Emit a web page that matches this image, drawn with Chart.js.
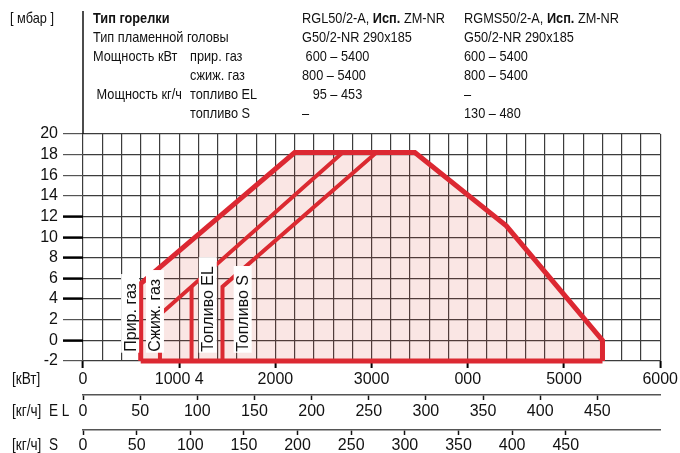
<!DOCTYPE html>
<html lang="ru">
<head>
<meta charset="UTF-8">
<title>RGL50/2-A, RGMS50/2-A – рабочее поле</title>
<script src="https://cdn.jsdelivr.net/npm/chart.js"></script>
<style>
  body { margin: 0; background: #fff; }
  .wrap { position: relative; width: 680px; height: 453px; }
</style>
</head>
<body>
<div class="wrap"><canvas id="burner" width="680" height="453"></canvas></div>
<script>
// рабочие поля горелки, точки [кВт, мбар] (топливо EL - [кг/ч, мбар])
const natGas = [[600, -2], [600, 5.5], [2200, 18.2], [3450, 18.2], [4400, 11.1], [5400, 0], [5400, -2]];
const baseLine = [[600, -2], [5400, -2]];
const lpg = [[800, -2], [800, 2.5], [2700, 18.2]];
const oilEL = [[95, -2], [95, 5.2]];
const oilS = [[1450, -2], [1450, 5.2], [3050, 18.2]];

// подписи осей
const mbarTicks = [-2, 0, 2, 4, 6, 8, 10, 12, 14, 16, 18, 20];
const kwLabels = ['0', '1000 4', '2000', '3000', '000', '5000', '6000'];
const elTicks = [0, 50, 100, 150, 200, 250, 300, 350, 400, 450];
const sTicks = [0, 50, 100, 150, 200, 250, 300, 350, 400, 450];
const boldTicks = [0, 4, 6, 8, 10, 12];

// таблица над графиком
const tableRows = [
  [[['Тип горелки', 1]], null, [['RGL50/2-A, ', 0], ['Исп.', 1], [' ZM-NR', 0]], [['RGMS50/2-A, ', 0], ['Исп.', 1], [' ZM-NR', 0]]],
  ['Тип пламенной головы', null, 'G50/2-NR 290x185', 'G50/2-NR 290x185'],
  ['Мощность кВт', 'прир. газ', ' 600 – 5400', '600 – 5400'],
  [null, 'сжиж. газ', '800 – 5400', '800 – 5400'],
  [' Мощность кг/ч', 'топливо EL', '   95 – 453', '–'],
  [null, 'топливо S', '–', '130 – 480']
];
const sideNotes = [['Прир. газ', 490], ['Сжиж. газ', 748], ['Топливо EL', 1297], ['Топливо S', 1660]];

const RED = '#dc2832';
const FONT = '"Liberation Sans", Arial, sans-serif';
const NARROW = 0.85; // типографский шрифт уже обычного

function pts(a) { return a.map(p => ({ x: p[0], y: p[1] })); }

// текст с горизонтальным сжатием
function narrowText(ctx, text, x, y) {
  ctx.save();
  ctx.translate(x, y);
  ctx.scale(NARROW, 1);
  ctx.fillText(text, 0, 0);
  ctx.restore();
  return ctx.measureText(text).width * NARROW;
}

const paper = {
  id: 'paper',
  afterDatasetsDraw(chart) {
    const { ctx, scales: { x, y } } = chart;
    ctx.save();
    ctx.font = '16px ' + FONT;
    sideNotes.forEach(n => {
      const cx = x.getPixelForValue(n[1]);
      const by = y.getPixelForValue(-1.1);
      const w = ctx.measureText(n[0]).width;
      ctx.fillStyle = '#fff';
      ctx.fillRect(cx - 9, by - w - 9, 18, w + 10);
      ctx.save();
      ctx.translate(cx, by);
      ctx.rotate(-Math.PI / 2);
      ctx.fillStyle = '#111';
      ctx.textBaseline = 'middle';
      ctx.fillText(n[0], 0, 1);
      ctx.restore();
    });
    ctx.restore();
  },
  afterDraw(chart) {
    const { ctx, chartArea, scales } = chart;
    ctx.save();
    ctx.fillStyle = '#111';
    ctx.textBaseline = 'middle';

    // разделитель
    const x0 = scales.x.getPixelForValue(0);
    ctx.strokeStyle = '#111';
    ctx.lineWidth = 1.5;
    ctx.beginPath();
    ctx.moveTo(x0, 11);
    ctx.lineTo(x0, chartArea.top);
    ctx.stroke();

    ctx.font = '15px ' + FONT;
    narrowText(ctx, '[ мбар ]', 10, 19);

    const cols = [93, 190, 302, 464];
    tableRows.forEach((row, r) => {
      const ty = 19 + r * 19;
      row.forEach((cell, c) => {
        if (!cell) return;
        const parts = typeof cell === 'string' ? [[cell, 0]] : cell;
        let tx = cols[c];
        parts.forEach(p => {
          ctx.font = (p[1] ? 'bold ' : '') + '15px ' + FONT;
          tx += narrowText(ctx, p[0], tx, ty);
        });
      });
    });

    // единицы нижних осей
    ctx.font = '16px ' + FONT;
    const units = [['x', '[кВт]'], ['xEL', '[кг/ч]  E L'], ['xS', '[кг/ч]  S']];
    units.forEach(u => {
      const s = scales[u[0]];
      narrowText(ctx, u[1], 12, s.top + s.options.grid.tickLength + s.options.ticks.padding + 9.5);
    });
    ctx.restore();
  }
};

const tickFont = { family: FONT, size: 16 };

new Chart(document.getElementById('burner'), {
  type: 'line',
  data: {
    datasets: [
      { data: pts(natGas), borderColor: RED, borderWidth: 5, fill: 'start', backgroundColor: 'rgba(215, 60, 50, 0.13)', clip: false },
      { data: pts(baseLine), borderColor: RED, borderWidth: 5, fill: false, clip: false },
      { data: pts(lpg), borderColor: RED, borderWidth: 4, fill: false, clip: false },
      { data: pts(oilEL), xAxisID: 'xEL', borderColor: RED, borderWidth: 4, fill: false, clip: false },
      { data: pts(oilS), borderColor: RED, borderWidth: 4, fill: false, clip: false }
    ]
  },
  options: {
    responsive: false,
    animation: false,
    devicePixelRatio: 1,
    layout: { padding: { top: 134, right: 17, left: 0, bottom: 0 } },
    elements: { point: { radius: 0 }, line: { tension: 0, borderJoinStyle: 'miter', borderCapStyle: 'butt' } },
    plugins: { legend: { display: false }, tooltip: { enabled: false } },
    scales: {
      x: {
        type: 'linear', position: 'bottom', min: 0, max: 6000,
        afterFit: s => { s.height = 34; },
        border: { display: false },
        grid: {
          color: '#3c3c3c', lineWidth: 1.2, tickLength: 7,
          tickColor: c => (c.tick && c.tick.value % 1000 === 0) ? '#000' : 'rgba(0,0,0,0)',
          tickWidth: 2
        },
        ticks: {
          stepSize: 200, autoSkip: false, maxRotation: 0, padding: 2, color: '#111', font: tickFont,
          callback: v => v % 1000 === 0 ? kwLabels[v / 1000] : ''
        }
      },
      xEL: {
        type: 'linear', position: 'bottom', min: 0, max: 505,
        afterBuildTicks: s => { s.ticks = elTicks.map(v => ({ value: v })); },
        afterFit: s => { s.height = 35; },
        border: { display: true, color: '#555', width: 1.5 },
        grid: { drawOnChartArea: false, tickLength: 5, tickColor: '#111', tickWidth: 1.5 },
        ticks: { autoSkip: false, maxRotation: 0, padding: 2, color: '#111', font: tickFont }
      },
      xS: {
        type: 'linear', position: 'bottom', min: 0, max: 538,
        afterBuildTicks: s => { s.ticks = sTicks.map(v => ({ value: v })); },
        afterFit: s => { s.height = 23; },
        border: { display: true, color: '#555', width: 1.5 },
        grid: { drawOnChartArea: false, tickLength: 5, tickColor: '#111', tickWidth: 1.5 },
        ticks: { autoSkip: false, maxRotation: 0, padding: 1, color: '#111', font: tickFont }
      },
      y: {
        min: -2, max: 20,
        afterBuildTicks: s => { s.ticks = mbarTicks.map(v => ({ value: v })); },
        afterFit: s => { s.width = 83; },
        border: { display: false },
        grid: {
          color: '#3c3c3c', lineWidth: 1.2, tickLength: 20,
          tickColor: c => boldTicks.includes(c.tick.value) ? '#000' : '#555',
          tickWidth: c => boldTicks.includes(c.tick.value) ? 2.5 : 1.2
        },
        ticks: { autoSkip: false, padding: 5, color: '#111', font: { family: FONT, size: 16 } }
      }
    }
  },
  plugins: [paper]
});
</script>
</body>
</html>
